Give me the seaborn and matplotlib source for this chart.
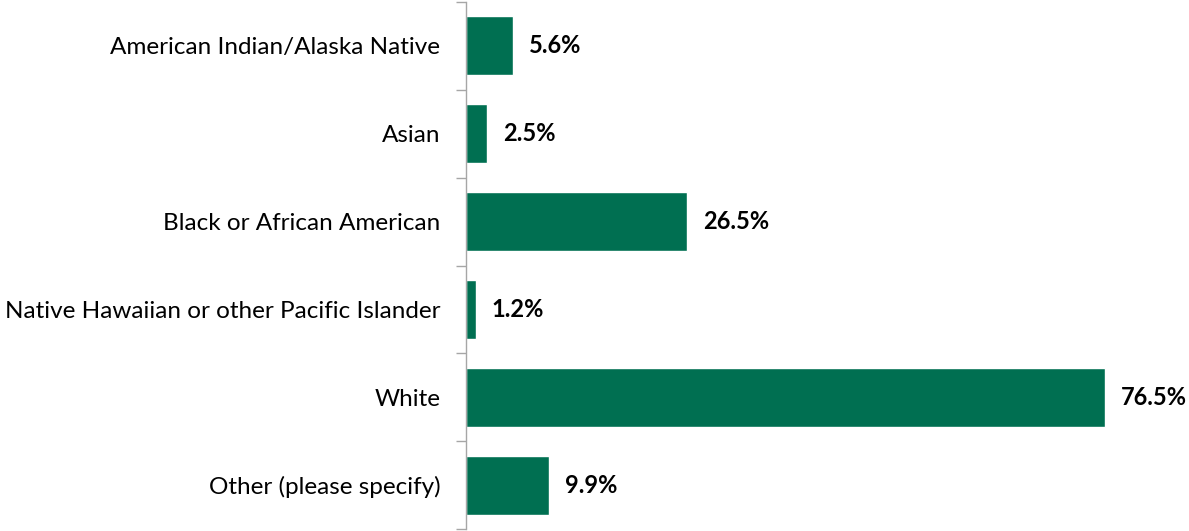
import matplotlib
matplotlib.use("Agg")
import matplotlib.pyplot as plt
import seaborn as sns
import pandas as pd
import numpy as np

categories = [
    "American Indian/Alaska Native",
    "Asian",
    "Black or African American",
    "Native Hawaiian or other Pacific Islander",
    "White",
    "Other (please specify)",
]
percents = [5.6, 2.5, 26.5, 1.2, 76.5, 9.9]

df = pd.DataFrame({"category": categories, "percent": percents})

sns.set_style("white")
plt.rcParams["font.family"] = ["Lato", "DejaVu Sans"]

W, H = 1189, 531
fig = plt.figure(figsize=(W / 100, H / 100), dpi=100)
ax = fig.add_axes([466 / W, 2 / H, (W - 466) / W, 527 / H])

sns.barplot(data=df, x="percent", y="category", orient="h", color="#006F51",
            saturation=1, width=0.67, ax=ax)

ax.set_xlim(0, (W - 466) / 8.35)
ax.set_ylim(len(categories) - 0.5, -0.5)
ax.set_xlabel("")
ax.set_ylabel("")
ax.set_xticks([])

for s in ["top", "right", "bottom"]:
    ax.spines[s].set_visible(False)
ax.spines["left"].set_color("#A6A6A6")
ax.spines["left"].set_linewidth(1.0)

ax.tick_params(axis="y", which="major", left=False, length=0, pad=18.5,
               labelsize=17.5, labelcolor="#000000")
ax.set_yticks(np.arange(-0.5, len(categories)), minor=True)
ax.tick_params(axis="y", which="minor", left=True, length=7,
               color="#A6A6A6", width=1.0)

for i, v in enumerate(percents):
    ax.text(v + 1.9, i, f"{v:.1f}%", va="center", ha="left",
            fontsize=17, fontweight="bold", color="#000000")

fig.savefig("out.png", dpi=100)
